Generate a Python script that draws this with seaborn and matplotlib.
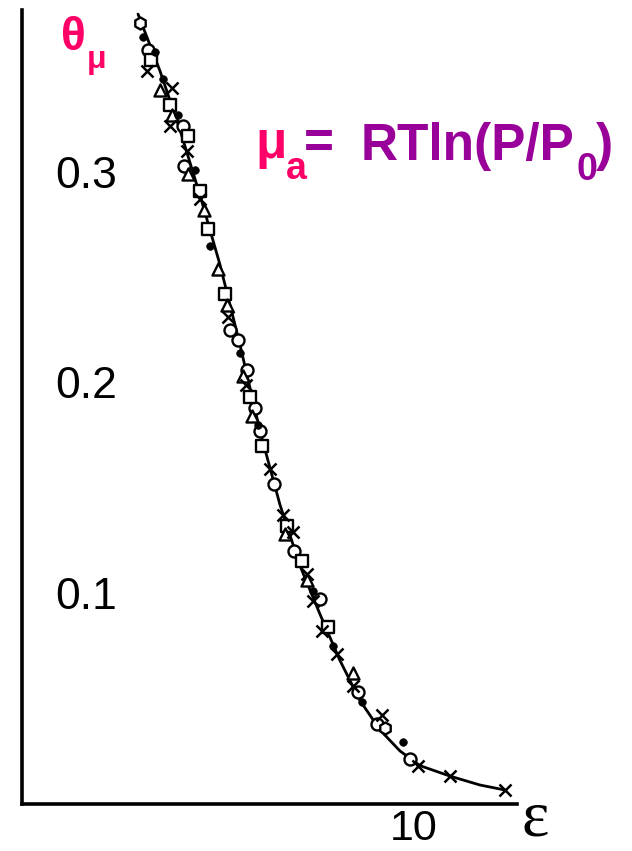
import matplotlib
matplotlib.use("Agg")
import matplotlib.pyplot as plt
import seaborn as sns
import numpy as np

# ---------------- data ----------------
curve_eps = [2.96, 3.52, 4.03, 4.54, 5.05, 5.56, 6.07, 6.58, 7.09, 7.60, 8.11,
             8.62, 9.13, 9.64, 10.15, 10.92, 11.68, 12.32]
curve_theta = [0.375, 0.348, 0.320, 0.289, 0.256, 0.218, 0.177, 0.142, 0.113,
               0.090, 0.068, 0.049, 0.035, 0.025, 0.018, 0.013, 0.0088, 0.0064]

hex_eps = [3.01, 9.26]
hex_theta = [0.371, 0.036]

circ_eps = [3.21, 4.11, 4.13, 5.31, 5.51, 5.74, 5.94, 6.07, 6.43, 6.94, 7.60,
            8.57, 9.06, 9.90]
circ_theta = [0.358, 0.322, 0.303, 0.225, 0.220, 0.206, 0.188, 0.177, 0.152,
              0.120, 0.097, 0.053, 0.038, 0.021]

sq_eps = [3.29, 3.78, 4.23, 4.54, 4.74, 5.18, 5.82, 6.12, 6.76, 7.14, 7.81]
sq_theta = [0.353, 0.332, 0.317, 0.291, 0.273, 0.242, 0.193, 0.170, 0.132,
            0.115, 0.084]

tri_eps = [3.52, 3.83, 4.23, 4.64, 5.00, 5.23, 5.64, 5.87, 6.71, 7.27, 8.44]
tri_theta = [0.339, 0.327, 0.299, 0.282, 0.254, 0.237, 0.203, 0.184, 0.128,
             0.106, 0.062]

x_eps = [3.19, 3.83, 3.78, 4.21, 4.54, 5.26, 5.71, 6.33, 6.66, 6.91, 7.27,
         7.42, 7.65, 8.04, 8.44, 9.18, 10.10, 10.92, 12.32]
x_theta = [0.348, 0.340, 0.322, 0.310, 0.287, 0.231, 0.199, 0.159, 0.137,
           0.129, 0.109, 0.096, 0.082, 0.071, 0.056, 0.042, 0.018, 0.013, 0.0064]

dot_eps = [3.09, 3.39, 3.60, 3.98, 4.41, 4.80, 5.56, 6.02, 7.42, 7.93, 8.67, 9.72]
dot_theta = [0.364, 0.357, 0.344, 0.327, 0.301, 0.265, 0.214, 0.180, 0.101,
             0.075, 0.048, 0.029]

y_ticks = [0.1, 0.2, 0.3]
y_tick_labels = ["0.1", "0.2", "0.3"]
x_ticks = [5, 10]
x_tick_labels = ["", "10"]

# ---------------- figure ----------------
W, H = 632, 851
sns.set_style("white")
plt.rcParams["font.family"] = ["Liberation Sans", "DejaVu Sans"]

fig = plt.figure(figsize=(W / 100, H / 100), dpi=100)
ax = fig.add_axes([22 / W, 1 - 803.5 / H, (517 - 22) / W, (803.5 - 10) / H])

sns.lineplot(x=curve_eps, y=curve_theta, ax=ax, color="black", lw=2.0,
             sort=False, zorder=2)

ms = 75
ew = 1.7
sns.scatterplot(x=circ_eps, y=circ_theta, ax=ax, marker="o", s=ms,
                facecolor="white", edgecolor="black", linewidth=ew, zorder=3)
sns.scatterplot(x=hex_eps, y=hex_theta, ax=ax, marker="h", s=ms,
                facecolor="white", edgecolor="black", linewidth=ew, zorder=3)
sns.scatterplot(x=sq_eps, y=sq_theta, ax=ax, marker="s", s=ms,
                facecolor="white", edgecolor="black", linewidth=ew, zorder=3)
sns.scatterplot(x=tri_eps, y=tri_theta, ax=ax, marker="^", s=ms,
                facecolor="white", edgecolor="black", linewidth=ew, zorder=3)
sns.scatterplot(x=x_eps, y=x_theta, ax=ax, marker="x", s=ms,
                color="black", linewidth=1.8, zorder=3)
sns.scatterplot(x=dot_eps, y=dot_theta, ax=ax, marker="o", s=30,
                color="black", edgecolor="black", linewidth=0.5, zorder=3)

ax.set_xlim(0, (517 - 22) / 39.2)
ax.set_ylim(0, (803.5 - 10) / 2105)

for side in ["top", "right"]:
    ax.spines[side].set_visible(False)
for side in ["left", "bottom"]:
    ax.spines[side].set_color("black")
    ax.spines[side].set_linewidth(2.6)

ax.set_yticks(y_ticks)
ax.set_yticklabels(y_tick_labels, fontsize=32, ha="left")
ax.set_xticks(x_ticks)
ax.set_xticklabels(x_tick_labels, fontsize=31)
ax.tick_params(axis="y", direction="in", length=8, width=1.6, pad=-24,
               colors="black")
ax.tick_params(axis="x", direction="in", length=9, width=1.6, pad=4,
               colors="black")
ax.set_xlabel("")
ax.set_ylabel("")
ax.grid(False)


def fx(x):
    return x / W


def fy(y):
    return 1 - y / H


pink = "#ff0066"
purple = "#990099"

# theta_mu label
fig.text(fx(61), fy(50), "θ", color=pink, fontsize=33, fontweight="bold",
         ha="left", va="baseline")
fig.text(fx(87), fy(68), "μ", color=pink, fontsize=23, fontweight="bold",
         ha="left", va="baseline")

# formula
fig.text(fx(255), fy(158), "μ", color=pink, fontsize=37, fontweight="bold",
         ha="left", va="baseline")
fig.text(fx(286), fy(179), "a", color=pink, fontsize=27, fontweight="bold",
         ha="left", va="baseline")
fig.text(fx(304), fy(158), "=", color=purple, fontsize=37, fontweight="bold",
         ha="left", va="baseline")
fig.text(fx(361), fy(160), "RTln(P/P", color=purple, fontsize=37,
         fontweight="bold", ha="left", va="baseline")
fig.text(fx(576), fy(180), "0", color=purple, fontsize=27, fontweight="bold",
         ha="left", va="baseline")
fig.text(fx(596), fy(160), ")", color=purple, fontsize=37, fontweight="bold",
         ha="left", va="baseline")

# epsilon axis label
fig.text(fx(522), fy(836), "ε", color="black", fontsize=47,
         family=["Liberation Serif", "DejaVu Serif"], ha="left",
         va="baseline")

fig.savefig("out.png", dpi=100)
